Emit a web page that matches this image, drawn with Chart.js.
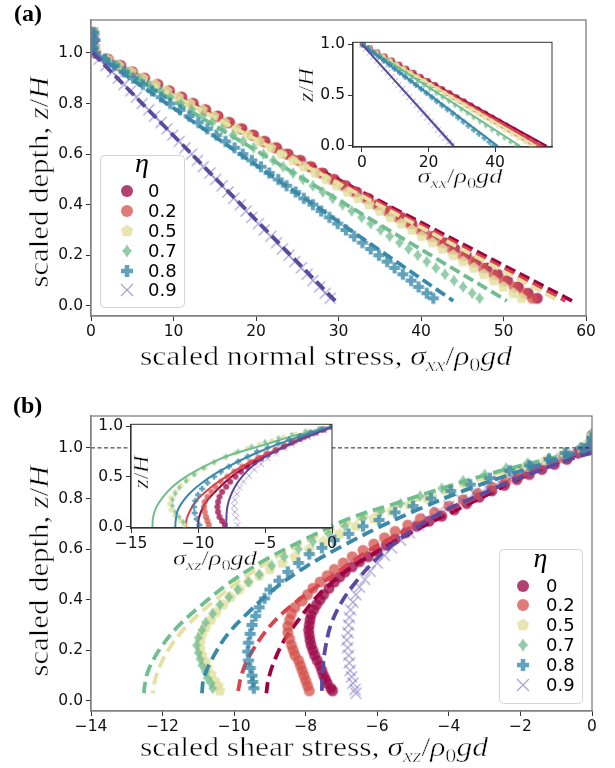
<!DOCTYPE html>
<html><head><meta charset="utf-8">
<script src="https://cdn.jsdelivr.net/npm/chart.js"></script>
<style>
html,body{margin:0;padding:0;background:#fff;}
#wrap{position:relative;width:615px;height:768px;overflow:hidden;background:#fff}
canvas{position:absolute;display:block}
</style></head><body>
<div id="wrap">
<canvas id="cA" width="615" height="384" style="left:0;top:0;width:615px;height:384px"></canvas>
<canvas id="cB" width="615" height="384" style="left:0;top:384px;width:615px;height:384px"></canvas>
<canvas id="cIA" width="270" height="170" style="left:290px;top:30px;width:270px;height:170px"></canvas>
<canvas id="cIB" width="260" height="170" style="left:85px;top:412px;width:260px;height:170px"></canvas>
</div>
<script>
// ---------- data ----------
const etaLabels = ['0','0.2','0.5','0.7','0.8','0.9'];

// panel (a): depth grid and sigma_xx values
const zA = [1.08,1.05,1.02,1.0,0.975,0.95,0.925,0.9,0.875,0.85,0.825,0.8,0.775,0.75,0.725,0.7,0.675,0.65,0.625,0.6,0.575,0.55,0.525,0.5,0.475,0.45,0.425,0.4,0.375,0.35,0.325,0.3,0.275,0.25,0.225,0.2,0.175,0.15,0.125,0.1,0.075,0.05,0.03];
const sxxEta0  = [0.1,0.3,0.2,0.5,2.0,3.6,5.0,6.5,8.1,9.5,11.0,12.4,13.9,15.4,16.8,18.3,19.7,21.1,22.5,23.9,25.4,26.7,28.1,29.5,30.9,32.2,33.6,34.9,36.3,37.6,38.9,40.3,41.6,42.9,44.1,45.5,46.7,48.0,49.3,50.5,51.8,53.0,54.1];
const sxxEta02 = [0.3,0.1,0.4,0.6,2.1,3.4,5.0,6.4,8.0,9.4,10.9,12.3,13.8,15.3,16.6,18.1,19.5,20.9,22.3,23.7,25.1,26.5,27.8,29.2,30.6,31.9,33.3,34.6,35.9,37.2,38.6,39.9,41.2,42.5,43.7,45.0,46.3,47.5,48.8,50.0,51.3,52.5,53.5];
const sxxEta05 = [0.4,0.2,0.5,0.6,2.0,3.4,4.9,6.3,7.8,9.2,10.6,12.0,13.5,14.9,16.2,17.6,19.0,20.4,21.8,23.1,24.5,25.8,27.2,28.5,29.8,31.1,32.4,33.7,35.0,36.3,37.6,38.9,40.1,41.4,42.6,43.9,45.1,46.4,47.6,48.8,50.0,51.2,52.2];
const sxxEta07 = [0.5,0.2,0.4,0.6,1.8,3.2,4.4,5.8,7.0,8.4,9.6,10.9,12.2,13.5,14.7,15.9,17.2,18.4,19.7,20.9,22.1,23.3,24.5,25.7,26.9,28.1,29.3,30.5,31.6,32.8,33.9,35.1,36.2,37.4,38.5,39.6,40.7,41.8,42.9,44.0,45.1,46.2,47.1];
const sxxEta08 = [0.3,0.5,0.2,0.5,1.7,2.8,4.0,5.1,6.3,7.4,8.5,9.6,10.8,11.9,13.0,14.1,15.2,16.3,17.4,18.4,19.5,20.6,21.6,22.7,23.7,24.8,25.8,26.9,27.9,28.9,29.9,30.9,31.9,32.9,33.9,34.9,35.9,36.8,37.8,38.8,39.7,40.7,41.5];
const sxxEta09 = [0.2,0.4,0.1,0.3,1.0,1.8,2.6,3.3,4.0,4.8,5.5,6.2,7.0,7.7,8.5,9.2,9.9,10.7,11.4,12.2,12.9,13.6,14.4,15.1,15.9,16.6,17.3,18.1,18.8,19.5,20.3,21.0,21.8,22.5,23.2,24.0,24.7,25.5,26.2,26.9,27.7,28.4,29.0];
// fitted lines (a): start x, end x, depths
const fitAStartX = [0.3,0.3,0.3,0.3,0.3,0.2];
const fitAEndX   = [58.3,57.5,56.7,50.4,43.9,29.6];
const fitAZ      = [1.0,0.02];

// inset (a)
const zInA = [1.0,0.96,0.92,0.88,0.84,0.8,0.76,0.72,0.68,0.64,0.6,0.56,0.52,0.48,0.44,0.4,0.36,0.32,0.28,0.24,0.2,0.16,0.12,0.08,0.04,0.0];
const inAEta0  = [0.3,2.4,4.6,6.8,9.0,11.2,13.3,15.5,17.6,19.8,22.0,24.1,26.3,28.4,30.6,32.7,34.8,37.0,39.1,41.2,43.4,45.5,47.6,49.8,51.9,54.0];
const inAEta02 = [0.3,2.3,4.5,6.6,8.7,10.8,12.9,15.0,17.1,19.2,21.3,23.4,25.5,27.6,29.7,31.8,33.9,36.0,38.1,40.2,42.3,44.4,46.5,48.6,50.7,52.6];
const inAEta05 = [0.2,2.2,4.3,6.3,8.4,10.4,12.5,14.5,16.6,18.6,20.6,22.7,24.7,26.8,28.8,30.8,32.9,34.9,36.9,39.0,41.0,43.0,45.1,47.1,49.2,51.0];
const inAEta07 = [0.2,2.0,3.9,5.7,7.6,9.4,11.3,13.1,15.0,16.8,18.7,20.5,22.4,24.2,26.1,27.9,29.8,31.7,33.5,35.4,37.2,39.1,40.9,42.8,44.6,46.3];
const inAEta08 = [0.2,1.8,3.4,5.0,6.6,8.2,9.8,11.4,13.0,14.6,16.2,17.8,19.4,21.0,22.5,24.1,25.7,27.3,28.9,30.5,32.0,33.6,35.2,36.8,38.3,39.4];
const inAEta09 = [0.1,1.2,2.3,3.4,4.5,5.6,6.6,7.7,8.8,9.9,11.0,12.1,13.1,14.2,15.3,16.4,17.5,18.5,19.6,20.7,21.8,22.8,23.9,25.0,26.0,26.9];
const fitInAEndX = [55.5,54.0,52.3,47.5,40.8,27.6];
const fitInAZ = [1.0,0.0];

// panel (b): [sigma_xz, z/H] measured points
const sxzEta0 = [[0,1.05],[0,1.02],[-0.1,1.0],[-0.4,0.98],[-0.7,0.955],[-1.05,0.935],[-1.4,0.915],[-1.75,0.895],[-2.1,0.875],[-2.45,0.852],[-2.8,0.83],[-3.15,0.805],[-3.5,0.78],[-3.85,0.755],[-4.2,0.73],[-4.55,0.71],[-4.9,0.69],[-5.2,0.665],[-5.5,0.64],[-5.75,0.615],[-6.0,0.59],[-6.25,0.57],[-6.5,0.55],[-6.7,0.53],[-6.9,0.51],[-7.05,0.49],[-7.2,0.47],[-7.35,0.445],[-7.5,0.42],[-7.6,0.40],[-7.7,0.38],[-7.78,0.36],[-7.85,0.34],[-7.88,0.32],[-7.9,0.30],[-7.92,0.28],[-7.9,0.26],[-7.88,0.24],[-7.85,0.22],[-7.8,0.20],[-7.75,0.18],[-7.68,0.16],[-7.6,0.14],[-7.55,0.12],[-7.5,0.10],[-7.45,0.085],[-7.4,0.07],[-7.3,0.05],[-7.25,0.04]];
const sxzEta02 = [[0,1.04],[-0.05,1.01],[-0.3,0.985],[-0.8,0.96],[-1.2,0.94],[-1.6,0.92],[-2.0,0.895],[-2.4,0.87],[-2.8,0.845],[-3.2,0.82],[-3.6,0.795],[-4.0,0.77],[-4.4,0.745],[-4.8,0.72],[-5.15,0.695],[-5.5,0.67],[-5.8,0.645],[-6.1,0.62],[-6.4,0.595],[-6.7,0.57],[-6.95,0.545],[-7.2,0.52],[-7.4,0.495],[-7.6,0.47],[-7.8,0.445],[-7.95,0.42],[-8.1,0.395],[-8.3,0.37],[-8.4,0.345],[-8.45,0.32],[-8.5,0.295],[-8.5,0.27],[-8.45,0.245],[-8.4,0.22],[-8.35,0.20],[-8.3,0.18],[-8.2,0.16],[-8.15,0.14],[-8.1,0.12],[-8.05,0.10],[-8.0,0.08],[-7.95,0.06],[-7.9,0.04]];
const sxzEta05 = [[0,1.05],[-0.1,1.02],[-0.3,1.0],[-0.8,0.975],[-1.3,0.95],[-1.85,0.925],[-2.4,0.90],[-2.95,0.875],[-3.5,0.85],[-4.05,0.825],[-4.6,0.80],[-5.1,0.775],[-5.6,0.75],[-6.1,0.72],[-6.6,0.69],[-7.05,0.66],[-7.5,0.63],[-7.9,0.60],[-8.3,0.57],[-8.65,0.545],[-9.0,0.52],[-9.3,0.495],[-9.6,0.47],[-9.85,0.44],[-10.1,0.41],[-10.3,0.38],[-10.5,0.35],[-10.65,0.32],[-10.8,0.29],[-10.9,0.26],[-10.95,0.23],[-10.95,0.205],[-10.9,0.18],[-10.8,0.155],[-10.75,0.13],[-10.65,0.105],[-10.55,0.08],[-10.45,0.06],[-10.4,0.04]];
const sxzEta07 = [[0,1.06],[-0.05,1.03],[-0.2,1.0],[-0.7,0.98],[-1.2,0.96],[-1.8,0.94],[-2.4,0.92],[-3.0,0.895],[-3.6,0.87],[-4.2,0.84],[-4.8,0.81],[-5.35,0.78],[-5.9,0.75],[-6.4,0.72],[-6.9,0.69],[-7.35,0.66],[-7.8,0.63],[-8.2,0.60],[-8.6,0.57],[-8.95,0.535],[-9.3,0.50],[-9.6,0.47],[-9.9,0.44],[-10.15,0.41],[-10.4,0.38],[-10.6,0.345],[-10.8,0.31],[-10.9,0.28],[-11.0,0.25],[-11.05,0.22],[-11.0,0.19],[-10.95,0.165],[-10.9,0.14],[-10.8,0.115],[-10.75,0.09],[-10.65,0.07],[-10.6,0.05]];
const sxzEta08 = [[0,1.04],[-0.1,1.01],[-0.3,1.0],[-0.75,0.98],[-1.2,0.955],[-1.75,0.93],[-2.3,0.91],[-2.85,0.88],[-3.4,0.855],[-3.95,0.83],[-4.5,0.80],[-5.0,0.77],[-5.5,0.745],[-5.95,0.715],[-6.4,0.69],[-6.8,0.66],[-7.2,0.635],[-7.55,0.605],[-7.9,0.58],[-8.2,0.545],[-8.5,0.51],[-8.75,0.475],[-9.0,0.44],[-9.15,0.405],[-9.3,0.37],[-9.4,0.335],[-9.5,0.30],[-9.55,0.265],[-9.6,0.23],[-9.62,0.195],[-9.6,0.16],[-9.55,0.13],[-9.5,0.10],[-9.48,0.075],[-9.45,0.05]];
const sxzEta09 = [[0,1.02],[0,1.0],[-0.25,0.99],[-0.5,0.975],[-0.85,0.958],[-1.2,0.94],[-1.55,0.922],[-1.9,0.905],[-2.25,0.885],[-2.6,0.865],[-2.95,0.843],[-3.3,0.82],[-3.65,0.795],[-4.0,0.77],[-4.3,0.745],[-4.6,0.72],[-4.85,0.693],[-5.1,0.665],[-5.35,0.635],[-5.6,0.605],[-5.8,0.575],[-6.0,0.545],[-6.2,0.512],[-6.35,0.48],[-6.5,0.45],[-6.6,0.42],[-6.68,0.39],[-6.75,0.36],[-6.78,0.33],[-6.8,0.30],[-6.82,0.27],[-6.85,0.24],[-6.83,0.21],[-6.8,0.18],[-6.78,0.15],[-6.76,0.12],[-6.72,0.095],[-6.68,0.07],[-6.62,0.045],[-6.6,0.03]];
// fitted curves (b)
const fitBEta0  = [[0,1.0],[-0.5,0.97],[-1.0,0.94],[-2.0,0.88],[-3.0,0.81],[-4.0,0.74],[-5.0,0.67],[-6.0,0.59],[-6.6,0.54],[-7.0,0.50],[-7.4,0.45],[-7.7,0.41],[-8.2,0.32],[-8.6,0.24],[-8.9,0.15],[-9.05,0.08],[-9.1,0.03]];
const fitBEta02 = [[0,1.0],[-0.55,0.97],[-1.1,0.94],[-2.2,0.875],[-3.3,0.80],[-4.4,0.73],[-5.4,0.66],[-6.4,0.58],[-7.3,0.49],[-8.0,0.42],[-8.7,0.34],[-9.2,0.26],[-9.6,0.17],[-9.8,0.10],[-9.9,0.03]];
const fitBEta05 = [[0,1.0],[-0.65,0.975],[-1.3,0.95],[-2.6,0.90],[-3.9,0.84],[-5.2,0.78],[-6.5,0.72],[-7.7,0.65],[-8.8,0.57],[-9.8,0.48],[-10.6,0.39],[-11.3,0.30],[-11.8,0.21],[-12.1,0.13],[-12.25,0.06],[-12.27,0.03]];
const fitBEta07 = [[0,1.0],[-0.7,0.975],[-1.4,0.95],[-2.8,0.90],[-4.2,0.84],[-5.5,0.78],[-6.8,0.72],[-8.0,0.64],[-9.1,0.56],[-10.1,0.47],[-10.9,0.38],[-11.6,0.29],[-12.1,0.20],[-12.4,0.12],[-12.5,0.06],[-12.52,0.03]];
const fitBEta08 = [[0,1.0],[-0.6,0.972],[-1.2,0.945],[-2.4,0.89],[-3.6,0.83],[-4.8,0.76],[-5.9,0.69],[-7.0,0.61],[-8.0,0.53],[-8.9,0.44],[-9.6,0.35],[-10.2,0.26],[-10.6,0.17],[-10.85,0.09],[-10.9,0.03]];
const fitBEta09 = [[0,0.98],[-0.4,0.965],[-0.8,0.945],[-1.6,0.905],[-2.4,0.86],[-3.2,0.81],[-4.0,0.76],[-4.8,0.695],[-5.5,0.625],[-6.1,0.55],[-6.6,0.47],[-7.0,0.39],[-7.3,0.30],[-7.45,0.21],[-7.53,0.12],[-7.55,0.03]];
const freeSurface = [[-14,1.0],[0,1.0]];

// inset (b)
const inBEta0  = [[0,1.0],[-0.6,0.97],[-1.2,0.94],[-1.8,0.91],[-2.4,0.875],[-3.0,0.84],[-3.6,0.80],[-4.2,0.76],[-4.8,0.72],[-5.3,0.68],[-5.8,0.64],[-6.3,0.595],[-6.8,0.55],[-7.2,0.50],[-7.6,0.45],[-7.9,0.40],[-8.2,0.35],[-8.4,0.30],[-8.5,0.25],[-8.55,0.20],[-8.5,0.15],[-8.4,0.10],[-8.2,0.06],[-8.0,0.02]];
const inBEta02 = [[0,1.0],[-0.7,0.965],[-1.4,0.93],[-2.1,0.89],[-2.8,0.85],[-3.5,0.81],[-4.2,0.77],[-4.9,0.73],[-5.5,0.69],[-6.1,0.645],[-6.7,0.60],[-7.3,0.55],[-7.8,0.50],[-8.3,0.45],[-8.7,0.40],[-9.0,0.35],[-9.3,0.30],[-9.5,0.25],[-9.55,0.20],[-9.5,0.15],[-9.4,0.10],[-9.3,0.06],[-9.2,0.02]];
const inBEta05 = [[0,1.0],[-0.9,0.975],[-1.8,0.95],[-2.7,0.92],[-3.6,0.89],[-4.5,0.855],[-5.4,0.82],[-6.3,0.78],[-7.2,0.735],[-8.0,0.69],[-8.8,0.64],[-9.5,0.585],[-10.2,0.53],[-10.8,0.47],[-11.3,0.41],[-11.7,0.35],[-12.0,0.29],[-12.1,0.23],[-12.0,0.17],[-11.7,0.11],[-11.3,0.06],[-11.0,0.02]];
const inBEta07 = [[0,1.0],[-1.0,0.975],[-2.0,0.95],[-3.0,0.92],[-4.0,0.885],[-5.0,0.845],[-6.0,0.80],[-7.0,0.75],[-7.9,0.70],[-8.8,0.645],[-9.6,0.585],[-10.3,0.52],[-10.9,0.455],[-11.4,0.39],[-11.7,0.33],[-11.9,0.27],[-11.9,0.21],[-11.7,0.15],[-11.4,0.10],[-11.1,0.05]];
const inBEta08 = [[0,1.0],[-0.8,0.97],[-1.6,0.94],[-2.4,0.905],[-3.2,0.87],[-4.0,0.83],[-4.8,0.79],[-5.6,0.75],[-6.3,0.70],[-7.0,0.65],[-7.7,0.60],[-8.3,0.55],[-8.8,0.50],[-9.3,0.44],[-9.7,0.38],[-10.0,0.32],[-10.2,0.26],[-10.3,0.20],[-10.25,0.14],[-10.1,0.08],[-9.9,0.02]];
const inBEta09 = [[0,0.99],[-0.6,0.96],[-1.2,0.93],[-1.8,0.895],[-2.4,0.86],[-3.0,0.82],[-3.6,0.78],[-4.2,0.73],[-4.8,0.68],[-5.3,0.625],[-5.8,0.57],[-6.2,0.51],[-6.6,0.45],[-6.9,0.39],[-7.1,0.33],[-7.25,0.27],[-7.3,0.21],[-7.25,0.15],[-7.15,0.09],[-7.05,0.02]];
const fitInBEta0  = [[0,1.0],[-1.1,0.94],[-2.2,0.88],[-3.3,0.81],[-4.4,0.74],[-5.5,0.67],[-6.5,0.59],[-7.4,0.51],[-8.1,0.43],[-8.8,0.34],[-9.4,0.25],[-9.75,0.16],[-9.95,0.08],[-10.0,0.0]];
const fitInBEta02 = [[0,1.0],[-1.2,0.94],[-2.4,0.875],[-3.6,0.80],[-4.8,0.73],[-5.9,0.66],[-7.0,0.58],[-8.0,0.49],[-8.8,0.42],[-9.6,0.33],[-10.2,0.25],[-10.6,0.16],[-10.85,0.08],[-10.9,0.0]];
const fitInBEta07 = [[0,1.0],[-1.5,0.95],[-3.0,0.90],[-4.5,0.84],[-6.0,0.78],[-7.5,0.72],[-8.8,0.65],[-10.0,0.57],[-11.0,0.49],[-11.9,0.40],[-12.6,0.30],[-13.1,0.20],[-13.35,0.10],[-13.4,0.0]];
const fitInBEta08 = [[0,1.0],[-1.3,0.945],[-2.6,0.89],[-3.9,0.83],[-5.2,0.76],[-6.4,0.69],[-7.6,0.61],[-8.7,0.53],[-9.7,0.44],[-10.5,0.35],[-11.1,0.26],[-11.5,0.17],[-11.65,0.08],[-11.7,0.0]];
const fitInBEta09 = [[0,0.99],[-0.85,0.95],[-1.7,0.905],[-2.55,0.86],[-3.4,0.81],[-4.25,0.75],[-5.05,0.69],[-5.8,0.62],[-6.45,0.54],[-7.0,0.45],[-7.4,0.36],[-7.7,0.26],[-7.85,0.16],[-7.9,0.0]];

// tick values
const ticksAX = [0,10,20,30,40,50,60];
const ticksDepth = [0,0.2,0.4,0.6,0.8,1.0];
const ticksBX = [-14,-12,-10,-8,-6,-4,-2,0];
const ticksInAX = [0,20,40];
const ticksInY = [0,0.5,1.0];
const ticksInBX = [-15,-10,-5,0];

// ---------- styling ----------
const SANS = "'DejaVu Sans', sans-serif";
const SERIF = "'Liberation Serif', serif";
const lineCols = ['#9e0142','#d8434e','#e4e1a2','#70be8f','#3a89a9','#5a4a9f'];
const markCols = ['rgba(158,10,72,0.78)','rgba(212,78,72,0.74)','rgba(226,224,160,0.82)','rgba(110,186,140,0.74)','rgba(45,130,165,0.74)','rgba(110,95,180,0.6)'];
const shapes = ['o','o','p','d','P','x'];

function mk(shape, s, fill){
  const n = 2*Math.ceil(s/2)+4;
  const c = document.createElement('canvas'); c.width = n; c.height = n;
  const g = c.getContext('2d'); g.translate(n/2, n/2);
  const r = s/2; g.fillStyle = fill; g.strokeStyle = fill;
  g.beginPath();
  if (shape === 'o') { g.arc(0,0,r,0,Math.PI*2); g.fill(); }
  else if (shape === 'p') { for (let k=0;k<5;k++){ const a=-Math.PI/2+k*2*Math.PI/5; g.lineTo(r*1.08*Math.cos(a), r*1.08*Math.sin(a)); } g.closePath(); g.fill(); }
  else if (shape === 'd') { const w=r*0.85,h=r*1.1,q=r*0.42; g.moveTo(0,-h); g.lineTo(q,-q); g.lineTo(w,0); g.lineTo(q,q); g.lineTo(0,h); g.lineTo(-q,q); g.lineTo(-w,0); g.lineTo(-q,-q); g.closePath(); g.fill(); }
  else if (shape === 'P') { const a=r*0.38; g.moveTo(-a,-r); g.lineTo(a,-r); g.lineTo(a,-a); g.lineTo(r,-a); g.lineTo(r,a); g.lineTo(a,a); g.lineTo(a,r); g.lineTo(-a,r); g.lineTo(-a,a); g.lineTo(-r,a); g.lineTo(-r,-a); g.lineTo(-a,-a); g.closePath(); g.fill(); }
  else if (shape === 'x') { g.lineWidth = Math.max(0.9, s/10); g.moveTo(-r,-r); g.lineTo(r,r); g.moveTo(r,-r); g.lineTo(-r,r); g.stroke(); }
  return c;
}
const bigMarks = shapes.map((s,k)=>mk(s, 11, markCols[k]));
const legMarks = shapes.map((s,k)=>mk(s, 12, markCols[k]));
const smallMarks = shapes.map((s,k)=>mk(s, 6, markCols[k]));

function xy(xs, zs){ return xs.map((x,i)=>({x:x, y:zs[i]})); }
function pp(arr){ return arr.map(p=>({x:p[0], y:p[1]})); }
function markers(data, img){ return {data, pointStyle: img, pointRadius: 5, pointHoverRadius: 5, showLine: false}; }
function curve(data, color, width, dash){ return {data, showLine: true, pointRadius: 0, borderColor: color, borderWidth: width, borderDash: dash || [], tension: 0.35, fill: false, borderCapStyle: 'butt'}; }
function ordered(list){ const n=list.length; list.forEach((d,i)=>{ d.order = n - i; }); return list; }

function fmtMinus(v){ return v < 0 ? '\u2212' + Math.abs(v) : String(v); }
function axis(min, max, ticks, fmt, fitSize, isX, border, fs){
  return {
    type:'linear', min, max,
    afterBuildTicks: s => { s.ticks = ticks.map(v => ({value: v})); },
    afterFit: s => { if (isX) s.height = fitSize; else s.width = fitSize; },
    ticks: { callback: fmt, font: {family: SANS, size: fs}, color: '#111', padding: isX ? 2 : 3, maxRotation: 0, autoSkip: false },
    grid: { display: true, drawOnChartArea: false, drawTicks: true, tickLength: 5, tickColor: '#333', tickWidth: 1 },
    border: { display: true, color: border, width: 1.2 },
    title: { display: false }
  };
}

function fontOf(seg, size){
  const sub = seg[1].indexOf('s') >= 0; const it = seg[1].indexOf('i') >= 0; const bd = seg[1].indexOf('b') >= 0;
  return (it ? 'italic ' : '') + (bd ? 'bold ' : '') + (sub ? size*0.7 : size) + 'px ' + SERIF;
}
function drawRich(g, segs, size, cx, by, rot, targetW, thin){
  g.save(); g.translate(cx, by); if (rot) g.rotate(rot);
  let w = 0; for (const s of segs){ g.font = fontOf(s, size); w += g.measureText(s[0]).width; }
  const sx = targetW ? targetW / w : 1; g.scale(sx, 1);
  let x = -w/2; g.textAlign = 'left'; g.textBaseline = 'alphabetic'; g.fillStyle = '#000';
  g.strokeStyle = '#fff'; g.lineWidth = thin || 0; g.lineJoin = 'round';
  for (const s of segs){
    g.font = fontOf(s, size); const dy = s[1].indexOf('s') >= 0 ? size*0.22 : 0;
    g.fillText(s[0], x, dy);
    if (thin) g.strokeText(s[0], x, dy);
    x += g.measureText(s[0]).width;
  }
  g.restore();
}
function roundRect(g, x, y, w, h, r){ g.beginPath(); g.moveTo(x+r,y); g.lineTo(x+w-r,y); g.arcTo(x+w,y,x+w,y+r,r); g.lineTo(x+w,y+h-r); g.arcTo(x+w,y+h,x+w-r,y+h,r); g.lineTo(x+r,y+h); g.arcTo(x,y+h,x,y+h-r,r); g.lineTo(x,y+r); g.arcTo(x,y,x+r,y,r); g.closePath(); }

const titleXA = [['scaled normal stress, ','r'],['σ','i'],['xx','is'],['/','r'],['ρ','i'],['0','rs'],['gd','i']];
const titleXB = [['scaled shear stress, ','r'],['σ','i'],['xz','is'],['/','r'],['ρ','i'],['0','rs'],['gd','i']];
const titleDepth = [['scaled depth, ','r'],['z','i'],['/','r'],['H','i']];
const titleInXA = [['σ','i'],['xx','is'],['/','r'],['ρ','i'],['0','rs'],['gd','i']];
const titleInXB = [['σ','i'],['xz','is'],['/','r'],['ρ','i'],['0','rs'],['gd','i']];
const titleInY = [['z','i'],['/','r'],['H','i']];

function framePlugin(color, w, bg){
  return { id: 'frame',
    beforeDraw(c){ if (!bg) return; const a=c.chartArea, g=c.ctx; g.save(); g.fillStyle=bg; g.fillRect(a.left,a.top,a.right-a.left,a.bottom-a.top); g.restore(); },
    afterDatasetsDraw(c){ const a=c.chartArea, g=c.ctx; g.save(); g.strokeStyle=color; g.lineWidth=w; g.strokeRect(a.left,a.top,a.right-a.left,a.bottom-a.top); g.restore(); } };
}
function textPlugin(fn){ return { id: 'texts', afterDraw(c){ fn(c.ctx); } }; }
function legendPlugin(box, titleY, ys, mx, lx){
  return { id: 'lgd', afterDraw(c){
    const g = c.ctx; g.save();
    roundRect(g, box[0]+0.5, box[1]+0.5, box[2]-box[0], box[3]-box[1], 4);
    g.fillStyle = 'rgba(255,255,255,0.85)'; g.fill(); g.strokeStyle = '#d4d4d4'; g.lineWidth = 1; g.stroke();
    g.fillStyle = '#000'; g.font = 'italic 28px ' + SERIF; g.textAlign = 'center'; g.textBaseline = 'alphabetic';
    g.fillText('η', (box[0]+box[2])/2, titleY);
    g.font = '18px ' + SANS; g.textAlign = 'left'; g.textBaseline = 'middle';
    for (let k=0;k<6;k++){ const m = legMarks[k]; g.drawImage(m, mx - m.width/2, ys[k] - m.height/2); g.fillText(etaLabels[k], lx, ys[k] + 1); }
    g.restore(); } };
}

// ---------- panel (a) ----------
const sxxSeries = [sxxEta0, sxxEta02, sxxEta05, sxxEta07, sxxEta08, sxxEta09];
const dsA = [];
for (let k=0;k<6;k++){
  dsA.push(markers(xy(sxxSeries[k], zA), bigMarks[k]));
  dsA.push(curve(xy([fitAStartX[k], fitAEndX[k]], fitAZ), lineCols[k], 3.8, [11,5]));
}
new Chart(document.getElementById('cA'), {
  type: 'scatter', data: { datasets: ordered(dsA) },
  options: { responsive: false, animation: false, events: [],
    layout: { padding: { top: 20, right: 29, left: 0, bottom: 0 } },
    plugins: { legend: { display: false }, tooltip: { enabled: false } },
    scales: { x: axis(0, 60, ticksAX, v => String(v), 68, true, '#808080', 15.5),
              y: axis(-0.04, 1.13, ticksDepth, v => v.toFixed(1), 91, false, '#808080', 15.5) } },
  plugins: [ framePlugin('#808080', 1.3, null),
    legendPlugin([100,155,184,307], 172, [191,211,231,251,271,290], 127, 148),
    textPlugin(g => {
      drawRich(g, titleXA, 28, 326, 365, 0, 372, 0.5);
      drawRich(g, titleDepth, 28, 48, 182, -Math.PI/2, 211, 0.5);
      g.save(); g.font = 'bold 24px ' + SERIF; g.fillStyle = '#000'; g.fillText('(a)', 14, 21); g.restore();
    }) ]
});

// ---------- inset (a) ----------
const inASeries = [inAEta0, inAEta02, inAEta05, inAEta07, inAEta08, inAEta09];
const dsIA = [];
for (let k=0;k<6;k++){
  dsIA.push(markers(xy(inASeries[k], zInA), smallMarks[k]));
  dsIA.push(curve(xy([0, fitInAEndX[k]], fitInAZ), lineCols[k], 2, []));
}
new Chart(document.getElementById('cIA'), {
  type: 'scatter', data: { datasets: ordered(dsIA) },
  options: { responsive: false, animation: false, events: [],
    layout: { padding: { top: 11, right: 8, left: 0, bottom: 0 } },
    plugins: { legend: { display: false }, tooltip: { enabled: false } },
    scales: { x: axis(-2.7, 57.1, ticksInAX, v => String(v), 53, true, '#333', 15.5),
              y: axis(-0.01, 1.02, ticksInY, v => v.toFixed(1), 63, false, '#333', 15.5) } },
  plugins: [ framePlugin('#333', 1, '#fff'),
    textPlugin(g => {
      drawRich(g, titleInXA, 22, 170, 153, 0, 85, 0.4);
      drawRich(g, titleInY, 22, 23, 55, -Math.PI/2, 34, 0.4);
    }) ]
});

// ---------- panel (b) ----------
const sxzSeries = [sxzEta0, sxzEta02, sxzEta05, sxzEta07, sxzEta08, sxzEta09];
const fitBSeries = [fitBEta0, fitBEta02, fitBEta05, fitBEta07, fitBEta08, fitBEta09];
const dsB = [];
for (let k=0;k<6;k++){
  dsB.push(markers(pp(sxzSeries[k]), bigMarks[k]));
  dsB.push(curve(pp(fitBSeries[k]), lineCols[k], 3.8, [12,6]));
}
dsB.push(Object.assign(curve(pp(freeSurface), '#222', 1, [4,2.5]), {tension: 0}));
new Chart(document.getElementById('cB'), {
  type: 'scatter', data: { datasets: ordered(dsB) },
  options: { responsive: false, animation: false, events: [],
    layout: { padding: { top: 32, right: 23, left: 0, bottom: 0 } },
    plugins: { legend: { display: false }, tooltip: { enabled: false } },
    scales: { x: axis(-14, 0, ticksBX, fmtMinus, 57, true, '#808080', 15.5),
              y: axis(-0.04, 1.126, ticksDepth, v => v.toFixed(1), 91, false, '#808080', 15.5) } },
  plugins: [ framePlugin('#808080', 1.3, null),
    legendPlugin([499,165,582,319], 183, [202,221,241,261,281,301], 523, 546),
    textPlugin(g => {
      drawRich(g, titleXB, 28, 314, 372, 0, 348, 0.5);
      drawRich(g, titleDepth, 28, 48, 187, -Math.PI/2, 211, 0.5);
      g.save(); g.font = 'bold 24px ' + SERIF; g.fillStyle = '#000'; g.fillText('(b)', 13, 29); g.restore();
    }) ]
});

// ---------- inset (b) ----------
const inBSeries = [inBEta0, inBEta02, inBEta05, inBEta07, inBEta08, inBEta09];
const fitInBSeries = [fitInBEta0, fitInBEta02, null, fitInBEta07, fitInBEta08, fitInBEta09];
const dsIB = [];
for (let k=0;k<6;k++){
  dsIB.push(markers(pp(inBSeries[k]), smallMarks[k]));
  if (fitInBSeries[k]) dsIB.push(curve(pp(fitInBSeries[k]), lineCols[k], 2, []));
}
new Chart(document.getElementById('cIB'), {
  type: 'scatter', data: { datasets: ordered(dsIB) },
  options: { responsive: false, animation: false, events: [],
    layout: { padding: { top: 10, right: 13, left: 0, bottom: 0 } },
    plugins: { legend: { display: false }, tooltip: { enabled: false } },
    scales: { x: axis(-15, 0, ticksInBX, fmtMinus, 54, true, '#333', 15.5),
              y: axis(-0.01, 1.02, ticksInY, v => v.toFixed(1), 46, false, '#333', 15.5) } },
  plugins: [ framePlugin('#333', 1, '#fff'),
    textPlugin(g => {
      drawRich(g, titleInXB, 22, 130, 153, 0, 84, 0.4);
      drawRich(g, titleInY, 22, 63, 60, -Math.PI/2, 33, 0.4);
    }) ]
});
</script>
</body></html>
